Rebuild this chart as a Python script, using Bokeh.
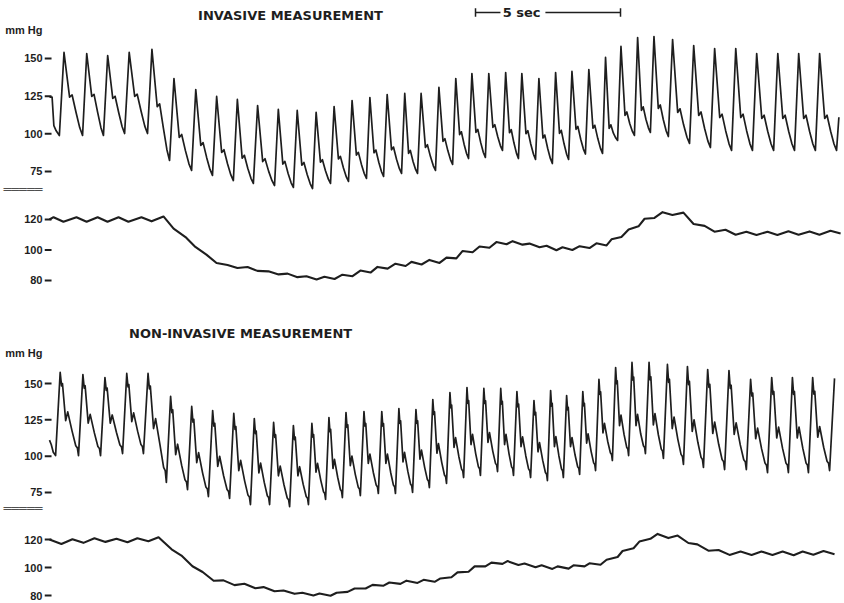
from bokeh.plotting import figure
from bokeh.layouts import column
from bokeh.models import Range1d, FixedTicker, Label
from bokeh.embed import file_html
from bokeh.resources import INLINE

INK = "#1e1e1e"
FONT = "DejaVu Sans"
TICK_FONT = "Liberation Sans"

# ---------------- data (time in seconds, pressure in mmHg) ----------------
# INVASIVE: beat onsets (end-diastolic troughs), trough / peak / dicrotic-notch pressures
inv_onset_t = [0.34, 1.14, 1.86, 2.59, 3.38, 4.14, 4.90, 5.62, 6.34, 7.03,
               7.76, 8.41, 9.07, 9.69, 10.31, 10.93, 11.52, 12.14, 12.69, 13.31,
               13.90, 14.45, 15.03, 15.62, 16.17, 16.76, 17.34, 17.90, 18.48, 19.07,
               19.59, 20.17, 20.72, 21.34, 22.07, 22.79, 23.52, 24.24, 24.97, 25.69,
               26.41, 27.14]
inv_dia = [98.9, 98.9, 98.9, 100.2, 100.2, 82.3, 75.7, 72.4, 69.0, 67.1,
           65.7, 64.4, 63.7, 67.1, 68.4, 70.4, 71.7, 73.7, 73.7, 75.7,
           79.7, 83.6, 84.3, 89.0, 83.6, 83.0, 80.3, 83.0, 86.6, 87.0,
           95.6, 98.9, 100.9, 98.2, 93.6, 90.9, 89.0, 89.0, 89.0, 89.0,
           89.0, 89.0]
inv_sys = [154.0, 153.3, 152.0, 154.0, 156.0, 136.7, 129.4, 124.8, 122.8, 118.8,
           116.2, 115.5, 114.2, 118.1, 122.1, 124.1, 126.1, 126.8, 126.8, 130.8,
           136.7, 140.0, 140.0, 140.7, 140.0, 136.7, 140.7, 141.4, 142.7, 150.7,
           158.0, 163.9, 164.6, 162.6, 158.6, 156.6, 156.6, 153.3, 153.3, 153.3,
           153.3]
inv_notch = [124.3, 124.8, 123.5, 124.8, 118.0, 97.6, 92.3, 87.6, 83.8, 81.6,
             79.9, 79.2, 81.2, 83.3, 85.9, 87.4, 89.4, 87.0, 91.0, 95.0,
             99.5, 101.0, 104.3, 100.7, 100.1, 97.2, 100.3, 103.0, 103.7, 103.6,
             112.2, 115.5, 116.8, 114.2, 112.2, 110.8, 110.8, 110.2, 110.2, 110.2,
             110.2]
inv_lead_t = [0.0, 0.09, 0.15, 0.23]
inv_lead_v = [124.3, 124.3, 105.5, 102.0]
inv_end_t = [27.22]
inv_end_v = [111.0]

# INVASIVE mean pressure trace
inv_mean_t = [0.00, 0.14, 0.48, 0.93, 1.28, 1.66, 2.00, 2.38, 2.72, 3.17, 3.52,
              3.93, 4.28, 4.69, 5.03, 5.41, 5.76, 6.14, 6.48, 6.83, 7.17,
              7.55, 7.90, 8.21, 8.55, 8.86, 9.21, 9.48, 9.83, 10.10, 10.45,
              10.72, 11.07, 11.31, 11.66, 11.93, 12.28, 12.48, 12.83, 13.10, 13.45,
              13.69, 14.03, 14.24, 14.59, 14.83, 15.17, 15.41, 15.76, 15.97, 16.31,
              16.55, 16.90, 17.14, 17.48, 17.69, 18.03, 18.28, 18.62, 18.86, 19.21,
              19.38, 19.72, 19.97, 20.31, 20.52, 20.86, 21.14, 21.48, 21.86, 22.21,
              22.59, 22.93, 23.31, 23.66, 24.03, 24.38, 24.76, 25.10, 25.48, 25.83,
              26.21, 26.55, 26.93, 27.28]
inv_mean_v = [120.0, 121.5, 118.5, 121.5, 118.5, 121.5, 118.5, 121.5, 118.5, 121.5, 118.8,
              122.0, 114.0, 108.5, 102.0, 97.0, 91.5, 90.2, 88.2, 88.8, 86.3,
              86.0, 84.0, 84.5, 82.2, 82.8, 80.7, 82.5, 81.0, 83.8, 82.8,
              86.5, 85.2, 88.9, 87.8, 91.0, 89.5, 92.2, 90.5, 93.5, 91.5,
              95.0, 94.5, 99.3, 98.5, 102.3, 101.5, 105.2, 103.8, 105.8, 103.5,
              104.2, 101.8, 102.8, 99.8, 101.8, 100.0, 102.5, 101.3, 104.4, 103.0,
              107.0, 108.5, 113.5, 115.5, 120.5, 121.0, 124.8, 123.0, 124.5, 117.0,
              115.8, 112.0, 113.3, 110.0, 112.0, 109.8, 112.0, 109.8, 112.3, 110.0,
              112.2, 110.0, 112.6, 110.8]

# NON-INVASIVE
non_onset_t = [0.21, 1.00, 1.76, 2.52, 3.24, 4.03, 4.76, 5.48, 6.21, 6.93,
               7.59, 8.28, 8.93, 9.52, 10.10, 10.72, 11.34, 11.93, 12.52, 13.10,
               13.69, 14.28, 14.86, 15.45, 16.00, 16.59, 17.17, 17.72, 18.28, 18.83,
               19.41, 19.97, 20.55, 21.17, 21.86, 22.55, 23.28, 24.03, 24.76, 25.48,
               26.17, 26.90]
non_dia = [100.4, 100.4, 100.4, 101.8, 101.8, 81.9, 77.0, 72.2, 70.9, 66.7,
           66.7, 65.3, 66.7, 70.2, 71.5, 72.9, 74.3, 74.3, 75.0, 78.4,
           81.2, 85.3, 86.7, 89.4, 86.7, 85.3, 83.2, 85.3, 87.4, 90.1,
           97.0, 100.4, 101.8, 98.4, 94.3, 92.2, 90.8, 90.8, 88.7, 88.7,
           88.7, 90.1]
non_sys = [157.6, 156.2, 154.1, 156.9, 156.9, 141.1, 134.2, 131.4, 129.4, 125.9,
           123.2, 121.1, 122.5, 126.6, 130.0, 130.7, 130.7, 132.8, 132.1, 139.0,
           143.8, 147.2, 146.6, 146.6, 144.5, 138.3, 145.2, 141.7, 144.5, 152.8,
           161.0, 164.5, 164.5, 163.1, 161.7, 159.6, 158.9, 152.8, 154.1, 154.1,
           154.1]
non_notch = [124.5, 122.7, 122.7, 123.8, 119.0, 101.0, 95.5, 93.0, 90.0, 88.5,
             86.5, 86.5, 89.0, 91.5, 93.5, 95.0, 95.0, 96.0, 98.0, 102.0,
             106.0, 108.0, 109.5, 108.0, 106.5, 103.0, 106.5, 106.5, 109.0, 116.0,
             121.0, 121.0, 121.5, 119.0, 117.0, 115.6, 115.0, 112.0, 112.5, 112.5,
             113.0]
non_lead_t = [0.0, 0.06, 0.13]
non_lead_v = [111.0, 108.0, 102.7]
non_end_t = [27.07]
non_end_v = [153.5]

non_mean_t = [0.00, 0.41, 0.79, 1.17, 1.55, 1.93, 2.31, 2.69, 3.03, 3.41,
              3.76, 4.21, 4.55, 4.93, 5.28, 5.66, 6.00, 6.38, 6.72, 7.10,
              7.38, 7.76, 8.07, 8.45, 8.72, 9.10, 9.31, 9.69, 9.90, 10.28,
              10.52, 10.90, 11.14, 11.52, 11.72, 12.10, 12.31, 12.69, 12.90, 13.28,
              13.48, 13.86, 14.07, 14.45, 14.66, 15.03, 15.24, 15.62, 15.79, 16.17,
              16.38, 16.76, 16.97, 17.34, 17.52, 17.90, 18.07, 18.45, 18.62, 19.00,
              19.21, 19.59, 19.76, 20.14, 20.34, 20.72, 20.97, 21.34, 21.66, 22.03,
              22.34, 22.72, 23.07, 23.45, 23.83, 24.21, 24.55, 24.93, 25.28, 25.66,
              25.97, 26.34, 26.69, 27.07]
non_mean_v = [120.0, 116.8, 120.2, 117.6, 120.9, 118.3, 120.5, 118.0, 120.9, 118.8,
              121.6, 113.0, 108.5, 100.9, 96.8, 90.5, 90.8, 87.4, 88.4, 85.2,
              86.0, 83.0, 83.6, 81.2, 82.0, 80.0, 81.4, 79.8, 82.0, 82.6,
              85.0, 85.0, 87.6, 87.0, 89.3, 88.3, 90.6, 89.0, 91.2, 89.8,
              92.2, 93.0, 96.5, 97.0, 100.8, 100.8, 103.5, 102.6, 104.6, 101.8,
              102.8, 100.2, 101.6, 99.0, 100.8, 99.2, 101.6, 100.8, 103.0, 102.0,
              105.5, 107.5, 111.8, 113.8, 118.5, 120.5, 124.0, 121.0, 122.8, 117.5,
              116.5, 112.0, 112.5, 109.0, 111.4, 109.0, 111.4, 109.0, 111.4, 108.8,
              111.4, 109.1, 111.8, 109.5]

pulse_ticks = [75, 100, 125, 150]
mean_ticks = [80, 100, 120]
unit_label = "mm Hg"
break_mark = "\u2550\u2550\u2550\u2550\u2550"
scale_bar_start = 14.69
scale_bar_len = 5.0

# beat shape (fraction of beat period, kind, weight)
INV_SHAPE = [(0.20, "sys", 0), (0.44, "notch", 0), (0.55, "notch", 0.05),
             (0.72, "fall", 0.6), (0.88, "fall", 0.2)]
NON_SHAPE = [(0.20, "sys", 0), (0.26, "notch", 0.72), (0.30, "notch", 0.77),
             (0.44, "notch", 0), (0.53, "notch", 0.18), (0.72, "fall", 0.7),
             (0.88, "fall", 0.28), (0.95, "fall", 0.22)]


def pulse_path(lead_t, lead_v, on_t, dia, sys_, notch, end_t, end_v, shape):
    xs, ys = list(lead_t), list(lead_v)
    for i in range(len(sys_)):
        t0, t1 = on_t[i], on_t[i + 1]
        T = t1 - t0
        d0, d1, s, n = dia[i], dia[i + 1], sys_[i], notch[i]
        xs.append(t0)
        ys.append(d0)
        for f, kind, k in shape:
            xs.append(t0 + f * T)
            if kind == "sys":
                ys.append(s)
            elif kind == "notch":
                ys.append(n + k * (s - n))
            else:
                ys.append(d1 + k * (n - d1))
    xs.append(on_t[-1])
    ys.append(dia[-1])
    xs += list(end_t)
    ys += list(end_v)
    return xs, ys


BORDER = 44                       # left border holding the tick labels (px)
X0 = (BORDER - 49) / 29.0         # 29 px per second, trace starts at page x 49
X1 = X0 + (844 - BORDER) / 29.0
DASH_END = 0.07


def make_panel(height, y0, y1, ticks, unit_at=None, break_at=None):
    p = figure(width=844, height=height, x_range=Range1d(X0, X1),
               y_range=Range1d(y0, y1), output_backend="svg",
               toolbar_location=None, x_axis_location=None, title=None,
               min_border_left=BORDER, min_border_right=0, min_border_top=0,
               min_border_bottom=0)
    p.outline_line_color = None
    p.xgrid.visible = False
    p.ygrid.visible = False
    all_ticks = list(ticks)
    overrides = {t: str(t) for t in ticks}
    if unit_at is not None:
        all_ticks.append(unit_at)
        overrides[unit_at] = unit_label
    if break_at is not None:
        all_ticks.append(break_at)
        overrides[break_at] = break_mark
    ax = p.yaxis[0]
    ax.ticker = FixedTicker(ticks=sorted(all_ticks))
    ax.major_label_overrides = overrides
    ax.axis_line_color = None
    ax.axis_label_standoff = 0
    ax.major_tick_in = 0
    ax.major_tick_out = 0
    ax.major_tick_line_color = None
    ax.minor_tick_line_color = None
    ax.major_label_standoff = 2
    ax.major_label_text_font = TICK_FONT
    ax.major_label_text_font_style = "bold"
    ax.major_label_text_font_size = "11px"
    ax.major_label_text_color = INK
    # the short dash that follows each numeric tick label
    p.segment(x0=[X0] * len(ticks), y0=ticks, x1=[DASH_END] * len(ticks), y1=ticks,
              line_color=INK, line_width=2)
    return p


def add_text(p, x, y, text, size, bold=True):
    p.add_layout(Label(x=x, y=y, text=text, text_align="center", text_baseline="middle",
                       text_font=FONT, text_font_size=size, text_color=INK,
                       text_font_style="bold" if bold else "normal"))


# ---- Panel A: invasive pulsatile ----
pA = make_panel(194, 59.73, 188.49, pulse_ticks, unit_at=169, break_at=63)
xa, ya = pulse_path(inv_lead_t, inv_lead_v, inv_onset_t, inv_dia, inv_sys, inv_notch,
                    inv_end_t, inv_end_v, INV_SHAPE)
pA.line(xa, ya, line_color=INK, line_width=1.7, line_join="round")
add_text(pA, 8.31, 178.5, "INVASIVE MEASUREMENT", "13px")
add_text(pA, 16.28, 180.5, "5 sec", "13px")
sb_y = 180.5
pA.segment(x0=[scale_bar_start, 17.10], y0=[sb_y, sb_y], x1=[15.55, scale_bar_start + scale_bar_len],
           y1=[sb_y, sb_y], line_color=INK, line_width=1.5)
pA.segment(x0=[scale_bar_start, scale_bar_start + scale_bar_len], y0=[sb_y - 2.8, sb_y - 2.8],
           x1=[scale_bar_start, scale_bar_start + scale_bar_len], y1=[sb_y + 2.8, sb_y + 2.8],
           line_color=INK, line_width=1.5)

# ---- Panel B: invasive mean ----
pB = make_panel(111, 63.6, 136.39, mean_ticks)
pB.line(inv_mean_t, inv_mean_v, line_color=INK, line_width=2.1, line_join="round")

# ---- Panel C: non-invasive pulsatile ----
pC = make_panel(208, 60.55, 203.67, pulse_ticks, unit_at=171, break_at=63)
xc, yc = pulse_path(non_lead_t, non_lead_v, non_onset_t, non_dia, non_sys, non_notch,
                    non_end_t, non_end_v, NON_SHAPE)
pC.line(xc, yc, line_color=INK, line_width=1.7, line_join="round")
add_text(pC, 6.59, 184.4, "NON-INVASIVE MEASUREMENT", "13px")

# ---- Panel D: non-invasive mean ----
pD = make_panel(90, 74.29, 138.57, mean_ticks)
pD.line(non_mean_t, non_mean_v, line_color=INK, line_width=2.1, line_join="round")

layout = column(pA, pB, pC, pD, spacing=0)
open("out.html", "w").write(file_html(layout, INLINE))
